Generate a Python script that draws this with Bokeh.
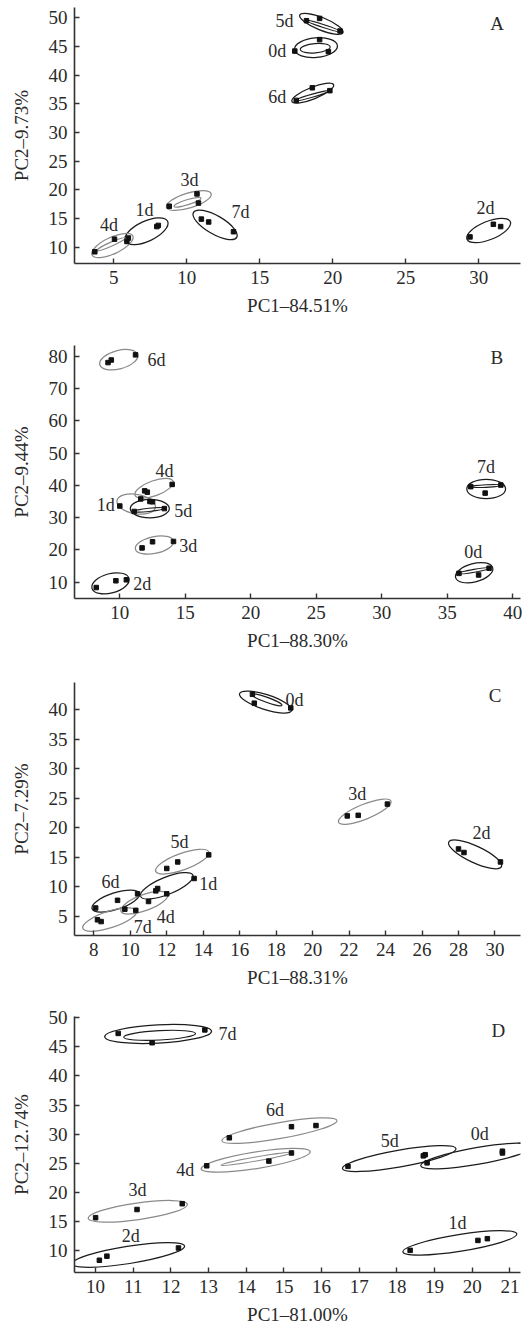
from bokeh.plotting import figure
from bokeh.layouts import column
from bokeh.models import ColumnDataSource, FixedTicker
from bokeh.core.properties import value
from bokeh.embed import file_html
from bokeh.resources import INLINE

# ---------------- DATA ----------------
# Panel A
A_group = ["0d","0d","0d","1d","1d","1d","2d","2d","2d","3d","3d","3d",
           "4d","4d","4d","5d","5d","5d","6d","6d","6d","7d","7d","7d"]
A_pc1 = [17.4,19.1,19.7, 7.95,8.05,6.0, 29.4,31.0,31.5, 8.8,10.7,10.8,
         3.7,5.05,5.9, 18.2,19.1,20.5, 17.5,18.6,19.8, 11.0,11.5,13.2]
A_pc2 = [44.2,46.2,44.1, 13.6,13.8,11.6, 11.8,14.0,13.6, 17.15,19.3,17.7,
         9.2,11.4,11.0, 49.5,49.9,47.7, 35.6,37.8,37.3, 14.9,14.4,12.7]
A_ell_group = ["5d","0d","6d","3d","7d","1d","4d","2d"]
A_ell_x = [19.22,18.85,18.63,10.14,11.94,7.24,4.91,30.68]
A_ell_y = [48.95,44.8,36.86,18.14,13.9,12.79,10.29,12.91]
A_ell_w = [3.2,2.95,3.08,3.2,3.42,3.2,3.08,3.2]
A_ell_h = [2.2,3.4,2.04,2.6,3.2,3.5,2.9,3.2]
A_ell_angle = [-22,5,22,17,-30,25,25,22]
A_in_group = ["5d","0d","6d","3d","4d"]
A_in_x = [19.32,18.8,18.63,10.05,4.82]
A_in_y = [48.6,44.7,36.45,17.85,10.52]
A_in_w = [2.42,2.05,2.42,1.94,2.12]
A_in_h = [0.5,1.63,0.52,0.87,0.7]
A_in_angle = [-18,5,16,17,24]
A_lab = ["5d","0d","6d","3d","1d","4d","7d","2d"]
A_lab_x = [16.69,16.19,16.19,10.18,7.1,4.68,13.68,30.46]
A_lab_y = [49.42,44.19,36.28,21.74,16.57,13.95,16.1,16.86]
A_xticks = [5,10,15,20,25,30]
A_yticks = [10,15,20,25,30,35,40,45,50]

# Panel B
B_group = A_group
B_pc1 = [35.9,37.4,38.2, 10.0,11.6,12.5, 8.2,9.7,10.5, 11.7,12.5,14.1,
         11.9,12.1,14.0, 11.1,12.3,13.4, 9.1,9.35,11.2, 36.8,37.9,39.1]
B_pc2 = [12.7,12.2,14.3, 33.6,35.8,34.9, 8.3,10.4,10.7, 20.6,22.5,22.6,
         38.3,37.9,40.3, 31.9,35.0,32.8, 78.1,78.9,80.5, 39.6,37.6,40.1]
B_ell_group = ["6d","4d","1d","5d","3d","2d","7d","0d"]
B_ell_x = [9.92,12.62,11.25,12.29,12.65,9.29,37.98,37.06]
B_ell_y = [79.0,39.1,34.2,32.8,21.5,9.6,38.9,12.9]
B_ell_w = [3.0,3.1,2.98,2.98,2.98,2.93,2.96,2.93]
B_ell_h = [5.7,4.66,6.0,5.7,5.2,6.0,6.0,5.7]
B_ell_angle = [15,20,-10,0,12,15,0,15]
B_in_group = ["5d","7d","0d"]
B_in_x = [12.22,37.96,37.06]
B_in_y = [32.4,39.8,13.5]
B_in_w = [2.3,2.3,2.32]
B_in_h = [1.0,0.8,0.9]
B_in_angle = [6,3,10]
B_lab = ["6d","4d","1d","5d","3d","2d","7d","0d"]
B_lab_x = [12.8,13.41,8.93,14.84,15.22,11.71,37.96,37.0]
B_lab_y = [78.9,44.6,33.9,32.15,21.3,9.4,45.8,19.2]
B_xticks = [10,15,20,25,30,35,40]
B_yticks = [10,20,30,40,50,60,70,80]

# Panel C
C_group = A_group
C_pc1 = [16.7,16.8,18.8, 11.5,11.4,13.5, 28.0,28.3,30.3, 21.9,22.5,24.1,
         9.7,11.0,12.0, 12.0,12.6,14.3, 8.1,9.3,10.4, 8.2,8.4,10.3]
C_pc2 = [42.6,41.1,40.3, 9.7,9.3,11.4, 16.4,15.8,14.2, 22.0,22.1,24.0,
         6.2,7.5,8.8, 13.1,14.2,15.4, 6.4,7.7,8.8, 4.4,4.1,6.0]
C_ell_group = ["0d","3d","2d","5d","1d","6d","4d","7d"]
C_ell_x = [17.42,22.86,28.91,12.85,12.0,9.2,10.77,8.87]
C_ell_y = [41.29,22.72,15.49,14.25,10.16,7.58,7.3,4.44]
C_ell_w = [3.0,3.1,3.19,3.1,3.1,2.73,2.73,3.1]
C_ell_h = [2.52,2.52,2.8,2.8,2.9,2.8,2.7,2.8]
C_ell_angle = [-18,22,-25,20,22,18,20,18]
C_in_group = ["0d"]
C_in_x = [17.47]
C_in_y = [41.68]
C_in_w = [1.8]
C_in_h = [0.84]
C_in_angle = [-20]
C_lab = ["0d","3d","2d","5d","1d","6d","4d","7d"]
C_lab_x = [19.0,22.45,29.26,12.7,14.28,8.91,11.95,10.68]
C_lab_y = [41.7,25.75,19.13,17.56,10.44,10.72,4.83,3.15]
C_xticks = [8,10,12,14,16,18,20,22,24,26,28,30]
C_yticks = [5,10,15,20,25,30,35,40]

# Panel D
D_group = A_group
D_pc1 = [18.8,20.8,20.8, 18.35,20.15,20.4, 10.1,10.3,12.2, 10.0,11.1,12.3,
         12.95,14.6,15.2, 16.7,18.75,18.7, 13.55,15.2,15.85, 10.6,11.5,12.9]
D_pc2 = [25.1,27.1,26.8, 10.1,11.8,12.1, 8.4,9.1,10.5, 15.7,17.1,18.1,
         24.6,25.4,26.8, 24.5,26.5,26.3, 29.4,31.3,31.5, 47.3,45.7,47.9]
D_ell_group = ["7d","6d","4d","5d","0d","3d","2d","1d"]
D_ell_x = [11.66,14.88,14.25,18.06,20.14,11.12,10.87,19.67]
D_ell_y = [47.2,30.63,25.54,25.83,26.29,16.8,9.31,11.37]
D_ell_w = [2.84,3.1,2.93,3.06,3.06,2.66,3.02,3.06]
D_ell_h = [3.14,2.74,2.86,2.86,2.86,2.86,2.97,2.86]
D_ell_angle = [3,10,9,10,10,8,9,9]
D_in_group = ["7d","4d"]
D_in_x = [11.7,14.26]
D_in_y = [46.97,25.77]
D_in_w = [1.91,1.89]
D_in_h = [1.6,0.69]
D_in_angle = [3,10]
D_lab = ["7d","6d","4d","3d","2d","5d","0d","1d"]
D_lab_x = [13.5,14.76,12.38,11.11,10.93,17.81,20.2,19.61]
D_lab_y = [47.14,34.11,23.83,20.4,12.51,28.86,30.0,14.86]
D_xticks = [10,11,12,13,14,15,16,17,18,19,20,21]
D_yticks = [10,15,20,25,30,35,40,45,50]

AXIS_X = ["PC1\u201384.51%", "PC1\u201388.30%", "PC1\u201388.31%", "PC1\u201381.00%"]
AXIS_Y = ["PC2\u20139.73%", "PC2\u20139.44%", "PC2\u20137.29%", "PC2\u201312.74%"]
LETTERS = ["A", "B", "C", "D"]

# ---------------- STYLE ----------------
FONT = "Liberation Serif"
DARK = "#1c1c1c"
GREY = "#8a8a8a"
TEXT = "#2a2a2a"
DARK_SETS = [
    {"0d", "1d", "2d", "5d", "6d", "7d"},
    {"2d", "5d", "7d", "0d"},
    {"0d", "2d", "1d", "6d"},
    {"7d", "5d", "0d", "2d", "1d"},
]


def tone(groups, dark):
    return [DARK if g in dark else GREY for g in groups]


def panel(idx, group, pc1, pc2, eg, ex, ey, ew, eh, ea, ig, ix, iy, iw, ih, ia,
          lab, lx, ly, xt, yt, xr, yr, height, top, bottom, right, letter_pos):
    dark = DARK_SETS[idx]
    p = figure(width=530, height=height, x_range=xr, y_range=yr,
               output_backend="svg", toolbar_location=None,
               min_border=0,
               min_border_left=74, min_border_right=right,
               min_border_top=top, min_border_bottom=bottom)
    p.outline_line_color = None
    p.grid.visible = False
    for ax in (p.xaxis[0], p.yaxis[0]):
        ax.axis_line_color = "#333333"
        ax.axis_line_width = 1.6
        ax.major_tick_in = 5
        ax.major_tick_out = 0
        ax.major_tick_line_color = "#333333"
        ax.major_tick_line_width = 1.4
        ax.minor_tick_line_color = None
        ax.major_label_text_font = FONT
        ax.major_label_text_font_size = "19px"
        ax.major_label_text_color = TEXT
        ax.axis_label_text_font = FONT
        ax.axis_label_text_font_size = "19px"
        ax.axis_label_text_font_style = "normal"
        ax.axis_label_text_color = TEXT
    p.xaxis.ticker = FixedTicker(ticks=xt)
    p.yaxis.ticker = FixedTicker(ticks=yt)
    p.xaxis.axis_label = AXIS_X[idx]
    p.yaxis.axis_label = AXIS_Y[idx]
    p.xaxis.major_label_standoff = 7
    p.yaxis.major_label_standoff = 7
    p.xaxis.axis_label_standoff = 8
    p.yaxis.axis_label_standoff = 14

    es = ColumnDataSource(dict(x=ex, y=ey, w=ew, h=eh, a=ea, c=tone(eg, dark)))
    p.ellipse(x="x", y="y", width="w", height="h", angle="a", angle_units="deg",
              source=es, fill_color=None, line_color="c", line_width=1.25)
    ins = ColumnDataSource(dict(x=ix, y=iy, w=iw, h=ih, a=ia, c=tone(ig, dark)))
    p.ellipse(x="x", y="y", width="w", height="h", angle="a", angle_units="deg",
              source=ins, fill_color=None, line_color="c", line_width=1.15)

    ps = ColumnDataSource(dict(x=pc1, y=pc2, g=group))
    p.scatter(x="x", y="y", source=ps, marker="square", size=4.5,
              fill_color="#111111", line_color="#111111")

    ls = ColumnDataSource(dict(x=lx, y=ly, t=lab))
    p.text(x="x", y="y", text="t", source=ls, text_font=value(FONT),
           text_font_size="18px", text_color=TEXT, text_align="center",
           text_baseline="middle")
    p.text(x=[letter_pos[0]], y=[letter_pos[1]], text=[LETTERS[idx]],
           text_font=value(FONT), text_font_size="19px", text_color=TEXT,
           text_align="center", text_baseline="middle")
    return p


pA = panel(0, A_group, A_pc1, A_pc2, A_ell_group, A_ell_x, A_ell_y, A_ell_w, A_ell_h, A_ell_angle,
           A_in_group, A_in_x, A_in_y, A_in_w, A_in_h, A_in_angle,
           A_lab, A_lab_x, A_lab_y, A_xticks, A_yticks,
           (2.31, 32.86), (7.16, 51.8), 330, 7, 67, 10, (31.26, 48.95))
pB = panel(1, B_group, B_pc1, B_pc2, B_ell_group, B_ell_x, B_ell_y, B_ell_w, B_ell_h, B_ell_angle,
           B_in_group, B_in_x, B_in_y, B_in_w, B_in_h, B_in_angle,
           B_lab, B_lab_x, B_lab_y, B_xticks, B_yticks,
           (6.54, 40.6), (4.9, 83.4), 330, 15, 62, 9, (38.8, 79.8))
pC = panel(2, C_group, C_pc1, C_pc2, C_ell_group, C_ell_x, C_ell_y, C_ell_w, C_ell_h, C_ell_angle,
           C_in_group, C_in_x, C_in_y, C_in_w, C_in_h, C_in_angle,
           C_lab, C_lab_x, C_lab_y, C_xticks, C_yticks,
           (6.94, 31.4), (1.74, 44.6), 330, 22, 53, 8, (30.0, 42.4))
pD = panel(3, D_group, D_pc1, D_pc2, D_ell_group, D_ell_x, D_ell_y, D_ell_w, D_ell_h, D_ell_angle,
           D_in_group, D_in_x, D_in_y, D_in_w, D_in_h, D_in_angle,
           D_lab, D_lab_x, D_lab_y, D_xticks, D_yticks,
           (9.44, 21.28), (6.3, 50.2), 338, 26, 56, 1, (20.69, 47.83))

layout = column(pA, pB, pC, pD, spacing=0)
open("out.html", "w").write(file_html(layout, INLINE))
